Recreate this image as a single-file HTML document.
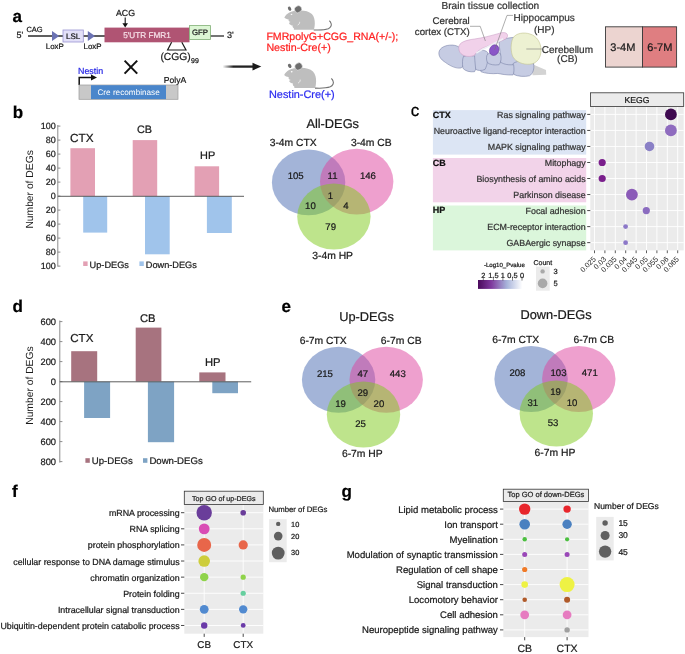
<!DOCTYPE html>
<html><head><meta charset="utf-8"><title>Figure</title>
<style>
html,body{margin:0;padding:0;background:#fff;}
body{width:685px;height:654px;overflow:hidden;}
svg{display:block;font-family:"Liberation Sans",sans-serif;will-change:transform;text-rendering:geometricPrecision;}
</style></head>
<body>
<svg width="685" height="654" viewBox="0 0 685 654">
<rect x="0" y="0" width="685" height="654" fill="#ffffff"/>
<text x="12.60" y="22.00" font-size="17" font-weight="bold" fill="#000" stroke="#000" stroke-width="0.22" >a</text>
<text x="12.80" y="117.80" font-size="17" font-weight="bold" fill="#000" stroke="#000" stroke-width="0.22" >b</text>
<text x="410.80" y="116.00" font-size="17" fill="#000" stroke="#000" stroke-width="0.22" >c</text>
<text x="12.60" y="312.20" font-size="17" font-weight="bold" fill="#000" stroke="#000" stroke-width="0.22" >d</text>
<text x="281.60" y="311.80" font-size="17" font-weight="bold" fill="#000" stroke="#000" stroke-width="0.22" >e</text>
<text x="12.00" y="496.80" font-size="17" font-weight="bold" fill="#000" stroke="#000" stroke-width="0.22" >f</text>
<text x="341.40" y="496.70" font-size="17" font-weight="bold" fill="#000" stroke="#000" stroke-width="0.22" >g</text>
<text x="16.40" y="37.80" font-size="9" fill="#1a1a1a" stroke="#1a1a1a" stroke-width="0.22" >5'</text>
<text x="26.40" y="32.00" font-size="7.5" fill="#1a1a1a" stroke="#1a1a1a" stroke-width="0.22" >CAG</text>
<line x1="28.00" y1="36.00" x2="105.00" y2="36.00" stroke="#2a2a2a" stroke-width="1.3" />
<line x1="210.00" y1="36.00" x2="224.00" y2="36.00" stroke="#2a2a2a" stroke-width="1.3" />
<path d="M52,31 L59.3,36 L52,41 Z" fill="#6b72b3" />
<path d="M87.8,31 L95,36 L87.8,41 Z" fill="#6b72b3" />
<rect x="63.00" y="30.00" width="20.30" height="12.00" fill="#e3e0f8" stroke="#9a94d2" stroke-width="0.8" />
<text x="73.20" y="39.30" font-size="8" text-anchor="middle" fill="#1a1a1a" stroke="#1a1a1a" stroke-width="0.22" >LSL</text>
<text x="45.80" y="49.00" font-size="7.9" fill="#1a1a1a" stroke="#1a1a1a" stroke-width="0.22" >LoxP</text>
<text x="83.60" y="49.00" font-size="7.9" fill="#1a1a1a" stroke="#1a1a1a" stroke-width="0.22" >LoxP</text>
<rect x="104.50" y="27.60" width="85.00" height="14.70" fill="#b05473" />
<text x="147.00" y="37.60" font-size="8.2" text-anchor="middle" fill="#f6dfe7" stroke="#f6dfe7" stroke-width="0.22" >5'UTR FMR1</text>
<rect x="189.50" y="25.60" width="21.00" height="13.80" fill="#dcf6d4" stroke="#7fae74" stroke-width="0.8" />
<text x="200.00" y="34.90" font-size="7.8" text-anchor="middle" fill="#1a1a1a" stroke="#1a1a1a" stroke-width="0.22" >GFP</text>
<text x="227.00" y="38.00" font-size="9" fill="#1a1a1a" stroke="#1a1a1a" stroke-width="0.22" >3'</text>
<text x="116.00" y="16.40" font-size="8.8" fill="#1a1a1a" stroke="#1a1a1a" stroke-width="0.22" >ACG</text>
<line x1="125.20" y1="17.60" x2="125.20" y2="24.00" stroke="#111" stroke-width="1.1" />
<path d="M122.4,23.2 L128,23.2 L125.2,27.6 Z" fill="#111" />
<path d="M171.6,42.3 L167.6,50 L186,50 L181.8,42.3" fill="none" stroke="#1a1a1a" stroke-width="1.2" />
<text x="160.40" y="60.40" font-size="10.3" fill="#1a1a1a" stroke="#1a1a1a" stroke-width="0.22" >(CGG)</text>
<text x="191.00" y="63.00" font-size="7" fill="#1a1a1a" stroke="#1a1a1a" stroke-width="0.22" >99</text>
<line x1="124.60" y1="60.60" x2="137.20" y2="73.60" stroke="#111" stroke-width="2" />
<line x1="137.20" y1="60.60" x2="124.60" y2="73.60" stroke="#111" stroke-width="2" />
<text x="78.00" y="74.30" font-size="8.9" fill="#2626e6" stroke="#2626e6" stroke-width="0.22" >Nestin</text>
<path d="M79.2,85 V77.6 H91.5" fill="none" stroke="#111" stroke-width="1.5" />
<path d="M91,74.6 L97,77.6 L91,80.6 Z" fill="#111" />
<rect x="79.00" y="85.00" width="99.00" height="14.30" fill="#c8c8c8" stroke="#9a9a9a" stroke-width="0.7" />
<rect x="91.00" y="85.20" width="75.00" height="13.90" fill="#4a86cb" />
<text x="128.60" y="95.20" font-size="8.2" text-anchor="middle" fill="#fff" >Cre recombinase</text>
<text x="163.80" y="83.00" font-size="8.6" fill="#1a1a1a" stroke="#1a1a1a" stroke-width="0.22" >PolyA</text>
<defs><linearGradient id="ag" x1="0" x2="1" y1="0" y2="0"><stop offset="0" stop-color="#222" stop-opacity="0"/><stop offset="0.35" stop-color="#222" stop-opacity="1"/></linearGradient><linearGradient id="cb" x1="0" x2="1"><stop offset="0" stop-color="#4a0a5c"/><stop offset="0.3" stop-color="#7f3a9e"/><stop offset="0.65" stop-color="#a7b3da"/><stop offset="1" stop-color="#ffffff"/></linearGradient></defs>
<rect x="222.60" y="65.45" width="31.00" height="2.30" fill="url(#ag)" />
<path d="M252.5,62.8 L261.3,66.6 L252.5,70.5 Z" fill="#1a1a1a" />
<g transform="translate(283.2,5.0) scale(0.955)"><path d="M1.2,13 C2,11 4,9.2 6,8 C9,6.3 13,5.8 17,5.7 C22,5.5 27,6.5 30,9.5 C32.5,12 33.2,16 33.1,19.5 C33,22.5 32.6,24.8 32,26 L12,26 C11.2,26 10.8,25.2 11.4,24.5 C10,24 9.4,22.5 10,21.5 C8.5,21.5 6.5,20.2 6.2,19.3 C6,18.6 6.8,18 7.8,17.9 L6.4,17.4 C5.5,16.8 5.5,15.6 5.8,15.2 C4,14.8 2,14.2 1.2,13 Z" fill="#bebebe"/><ellipse cx="6.7" cy="3.9" rx="1.6" ry="2.3" transform="rotate(-30 6.7 3.9)" fill="#6e6e6e"/><ellipse cx="15.6" cy="4.4" rx="3.9" ry="3.5" transform="rotate(-35 15.6 4.4)" fill="#6e6e6e" stroke="#fff" stroke-width="0.5"/><ellipse cx="8.7" cy="9.8" rx="0.9" ry="0.7" fill="#fff"/><path d="M17.2,17.6 C17.4,19 16.6,20.3 15.2,21" fill="none" stroke="#fff" stroke-width="0.7"/><path d="M32,26.1 C38,26.4 44,26 47.3,24.8 C50,23.6 50.8,21 50.2,19.5 C49.8,18.2 49,17 48.3,16.5" fill="none" stroke="#707070" stroke-width="1.1"/></g>
<g transform="translate(283,62) scale(1)"><path d="M1.2,13 C2,11 4,9.2 6,8 C9,6.3 13,5.8 17,5.7 C22,5.5 27,6.5 30,9.5 C32.5,12 33.2,16 33.1,19.5 C33,22.5 32.6,24.8 32,26 L12,26 C11.2,26 10.8,25.2 11.4,24.5 C10,24 9.4,22.5 10,21.5 C8.5,21.5 6.5,20.2 6.2,19.3 C6,18.6 6.8,18 7.8,17.9 L6.4,17.4 C5.5,16.8 5.5,15.6 5.8,15.2 C4,14.8 2,14.2 1.2,13 Z" fill="#bebebe"/><ellipse cx="6.7" cy="3.9" rx="1.6" ry="2.3" transform="rotate(-30 6.7 3.9)" fill="#6e6e6e"/><ellipse cx="15.6" cy="4.4" rx="3.9" ry="3.5" transform="rotate(-35 15.6 4.4)" fill="#6e6e6e" stroke="#fff" stroke-width="0.5"/><ellipse cx="8.7" cy="9.8" rx="0.9" ry="0.7" fill="#fff"/><path d="M17.2,17.6 C17.4,19 16.6,20.3 15.2,21" fill="none" stroke="#fff" stroke-width="0.7"/><path d="M32,26.1 C38,26.4 44,26 47.3,24.8 C50,23.6 50.8,21 50.2,19.5 C49.8,18.2 49,17 48.3,16.5" fill="none" stroke="#707070" stroke-width="1.1"/></g>
<text x="266.40" y="40.30" font-size="10.6" fill="#ff2222" stroke="#ff2222" stroke-width="0.22" >FMRpolyG+CGG_RNA(+/-);</text>
<text x="266.40" y="51.40" font-size="10.7" fill="#ff2222" stroke="#ff2222" stroke-width="0.22" >Nestin-Cre(+)</text>
<text x="269.00" y="98.30" font-size="10.9" fill="#2b2bf0" stroke="#2b2bf0" stroke-width="0.22" >Nestin-Cre(+)</text>
<text x="441.50" y="8.60" font-size="10.1" fill="#333" stroke="#333" stroke-width="0.22" >Brain tissue collection</text>
<text x="469.70" y="23.50" font-size="9.7" text-anchor="end" fill="#333" stroke="#333" stroke-width="0.22" >Cerebral</text>
<text x="469.70" y="34.60" font-size="9.7" text-anchor="end" fill="#333" stroke="#333" stroke-width="0.22" >cortex (CTX)</text>
<text x="544.20" y="21.40" font-size="10" text-anchor="middle" fill="#333" stroke="#333" stroke-width="0.22" >Hippocampus</text>
<text x="544.20" y="32.60" font-size="10" text-anchor="middle" fill="#333" stroke="#333" stroke-width="0.22" >(HP)</text>
<text x="567.40" y="52.60" font-size="10" text-anchor="middle" fill="#333" stroke="#333" stroke-width="0.22" >Cerebellum</text>
<text x="567.40" y="62.40" font-size="10" text-anchor="middle" fill="#333" stroke="#333" stroke-width="0.22" >(CB)</text>
<path d="M532.5,64.2 L546,70 L546.2,74.8 L532.5,75.2 Z" fill="#d3d3d3" />
<g transform="translate(436,25) scale(0.116788)" stroke="#7079a2" stroke-width="4.6" fill="#c6cce3">
<path d="M540,140 C580,112 650,104 700,106 L790,150 L835,300 C840,330 835,345 825,350 L560,400 C550,350 555,300 550,245 C545,200 540,170 540,140 Z"/>
<path d="M660,330 C700,300 790,300 835,330 C845,370 830,420 800,435 C760,445 700,440 670,425 C650,400 650,360 660,330 Z"/>
<path d="M380,330 C420,300 500,298 550,318 C575,330 600,345 665,340 C670,380 668,410 660,428 C600,430 560,420 530,415 C480,420 420,415 385,400 C375,380 375,350 380,330 Z"/>
<path d="M25,235 C30,195 80,170 140,172 C190,175 225,200 240,250 C250,300 240,350 215,368 C170,375 120,350 80,320 C40,295 22,265 25,235 Z"/>
<path d="M235,270 C260,255 320,258 345,275 C355,320 350,370 330,400 C290,405 250,395 230,370 C225,330 225,295 235,270 Z"/>
<path d="M330,240 C360,212 420,208 442,235 C452,280 440,340 420,380 C390,395 355,390 340,380 C335,330 330,280 330,240 Z"/>
<path d="M435,262 C450,228 520,222 552,245 C562,280 557,320 540,340 C500,346 460,340 440,322 C432,302 430,282 435,262 Z"/>
<path d="M195,190 C198,150 250,130 330,120 C400,110 470,92 540,72 C575,60 605,62 612,85 C616,105 600,118 585,125 C545,145 470,168 400,198 C365,215 345,235 330,258 C305,272 270,272 245,264 C212,252 194,228 195,190 Z" fill="#f1d1ea" stroke="#c99ac3"/>
<path d="M345,240 C400,205 480,170 575,118" fill="none" stroke="#eef0f5" stroke-width="13"/>
</g>
<path d="M513,38 C516,33 524,32 530,34 C537,36 541,43 541,50 C541,58 537,63.5 530,64.2 C523,64.8 516,62 513,57 C510.5,52 510.5,43 513,38 Z" fill="#edf1d2" stroke="#c3c58f" stroke-width="0.6" />
<ellipse cx="494.2" cy="50.1" rx="4.6" ry="5.5" transform="rotate(25 494.2 50.1)" fill="#8a56c8" stroke="#5d3394" stroke-width="0.5"/>
<path d="M470,26.3 H480.2 L485.4,41" fill="none" stroke="#777" stroke-width="0.6" />
<path d="M513,15.4 H507 L494.6,50" fill="none" stroke="#777" stroke-width="0.6" />
<line x1="526.30" y1="49.00" x2="542.00" y2="49.00" stroke="#777" stroke-width="0.6" />
<rect x="605.50" y="26.80" width="37.00" height="40.30" fill="#ecd4d0" stroke="#3a3a3a" stroke-width="0.9" />
<rect x="642.50" y="26.80" width="34.10" height="40.30" fill="#df7e81" stroke="#3a3a3a" stroke-width="0.9" />
<text x="622.80" y="50.60" font-size="11" text-anchor="middle" fill="#1a1a1a" stroke="#1a1a1a" stroke-width="0.22" >3-4M</text>
<text x="659.80" y="50.60" font-size="11" text-anchor="middle" fill="#1a1a1a" stroke="#1a1a1a" stroke-width="0.22" >6-7M</text>
<line x1="57.80" y1="125.00" x2="57.80" y2="266.60" stroke="#808080" stroke-width="0.9" />
<line x1="57.80" y1="126.10" x2="60.40" y2="126.10" stroke="#808080" stroke-width="0.9" />
<text x="55.80" y="129.40" font-size="9" text-anchor="end" fill="#1a1a1a" stroke="#1a1a1a" stroke-width="0.22" >100</text>
<line x1="57.80" y1="140.10" x2="60.40" y2="140.10" stroke="#808080" stroke-width="0.9" />
<text x="55.80" y="143.40" font-size="9" text-anchor="end" fill="#1a1a1a" stroke="#1a1a1a" stroke-width="0.22" >80</text>
<line x1="57.80" y1="154.10" x2="60.40" y2="154.10" stroke="#808080" stroke-width="0.9" />
<text x="55.80" y="157.40" font-size="9" text-anchor="end" fill="#1a1a1a" stroke="#1a1a1a" stroke-width="0.22" >60</text>
<line x1="57.80" y1="168.10" x2="60.40" y2="168.10" stroke="#808080" stroke-width="0.9" />
<text x="55.80" y="171.40" font-size="9" text-anchor="end" fill="#1a1a1a" stroke="#1a1a1a" stroke-width="0.22" >40</text>
<line x1="57.80" y1="182.10" x2="60.40" y2="182.10" stroke="#808080" stroke-width="0.9" />
<text x="55.80" y="185.40" font-size="9" text-anchor="end" fill="#1a1a1a" stroke="#1a1a1a" stroke-width="0.22" >20</text>
<line x1="57.80" y1="196.10" x2="60.40" y2="196.10" stroke="#808080" stroke-width="0.9" />
<text x="55.80" y="199.40" font-size="9" text-anchor="end" fill="#1a1a1a" stroke="#1a1a1a" stroke-width="0.22" >0</text>
<line x1="57.80" y1="210.10" x2="60.40" y2="210.10" stroke="#808080" stroke-width="0.9" />
<text x="55.80" y="213.40" font-size="9" text-anchor="end" fill="#1a1a1a" stroke="#1a1a1a" stroke-width="0.22" >20</text>
<line x1="57.80" y1="224.10" x2="60.40" y2="224.10" stroke="#808080" stroke-width="0.9" />
<text x="55.80" y="227.40" font-size="9" text-anchor="end" fill="#1a1a1a" stroke="#1a1a1a" stroke-width="0.22" >40</text>
<line x1="57.80" y1="238.10" x2="60.40" y2="238.10" stroke="#808080" stroke-width="0.9" />
<text x="55.80" y="241.40" font-size="9" text-anchor="end" fill="#1a1a1a" stroke="#1a1a1a" stroke-width="0.22" >60</text>
<line x1="57.80" y1="252.10" x2="60.40" y2="252.10" stroke="#808080" stroke-width="0.9" />
<text x="55.80" y="255.40" font-size="9" text-anchor="end" fill="#1a1a1a" stroke="#1a1a1a" stroke-width="0.22" >80</text>
<line x1="57.80" y1="266.10" x2="60.40" y2="266.10" stroke="#808080" stroke-width="0.9" />
<text x="55.80" y="269.40" font-size="9" text-anchor="end" fill="#1a1a1a" stroke="#1a1a1a" stroke-width="0.22" >100</text>
<rect x="70.40" y="148.20" width="24.60" height="47.90" fill="#e3a0b4" />
<rect x="83.20" y="196.10" width="24.00" height="36.50" fill="#a0c4eb" />
<rect x="132.70" y="140.10" width="24.50" height="56.00" fill="#e3a0b4" />
<rect x="145.00" y="196.10" width="24.70" height="58.20" fill="#a0c4eb" />
<rect x="194.60" y="166.30" width="24.50" height="29.80" fill="#e3a0b4" />
<rect x="206.90" y="196.10" width="24.90" height="36.90" fill="#a0c4eb" />
<line x1="57.80" y1="196.30" x2="244.00" y2="196.30" stroke="#555" stroke-width="0.95" />
<text x="70.00" y="141.50" font-size="11.8" fill="#1a1a1a" stroke="#1a1a1a" stroke-width="0.22" >CTX</text>
<text x="137.00" y="133.20" font-size="10.8" fill="#1a1a1a" stroke="#1a1a1a" stroke-width="0.22" >CB</text>
<text x="200.10" y="158.90" font-size="10.9" fill="#1a1a1a" stroke="#1a1a1a" stroke-width="0.22" >HP</text>
<rect x="83.20" y="261.40" width="4.40" height="4.60" fill="#e3a0b4" />
<text x="89.60" y="267.60" font-size="9.2" fill="#1a1a1a" stroke="#1a1a1a" stroke-width="0.22" >Up-DEGs</text>
<rect x="139.40" y="261.40" width="4.40" height="4.60" fill="#a0c4eb" />
<text x="145.80" y="267.60" font-size="9.2" fill="#1a1a1a" stroke="#1a1a1a" stroke-width="0.22" >Down-DEGs</text>
<text transform="translate(33,189.4) rotate(-90)" text-anchor="middle" font-size="10.3" fill="#1a1a1a">Number of DEGs</text>
<line x1="59.80" y1="320.50" x2="59.80" y2="462.60" stroke="#808080" stroke-width="0.9" />
<line x1="59.80" y1="321.60" x2="62.40" y2="321.60" stroke="#808080" stroke-width="0.9" />
<text x="56.00" y="324.90" font-size="9.3" text-anchor="end" fill="#1a1a1a" stroke="#1a1a1a" stroke-width="0.22" >600</text>
<line x1="59.80" y1="341.60" x2="62.40" y2="341.60" stroke="#808080" stroke-width="0.9" />
<text x="56.00" y="344.90" font-size="9.3" text-anchor="end" fill="#1a1a1a" stroke="#1a1a1a" stroke-width="0.22" >400</text>
<line x1="59.80" y1="361.60" x2="62.40" y2="361.60" stroke="#808080" stroke-width="0.9" />
<text x="56.00" y="364.90" font-size="9.3" text-anchor="end" fill="#1a1a1a" stroke="#1a1a1a" stroke-width="0.22" >200</text>
<line x1="59.80" y1="381.60" x2="62.40" y2="381.60" stroke="#808080" stroke-width="0.9" />
<text x="56.00" y="384.90" font-size="9.3" text-anchor="end" fill="#1a1a1a" stroke="#1a1a1a" stroke-width="0.22" >0</text>
<line x1="59.80" y1="401.60" x2="62.40" y2="401.60" stroke="#808080" stroke-width="0.9" />
<text x="56.00" y="404.90" font-size="9.3" text-anchor="end" fill="#1a1a1a" stroke="#1a1a1a" stroke-width="0.22" >200</text>
<line x1="59.80" y1="421.60" x2="62.40" y2="421.60" stroke="#808080" stroke-width="0.9" />
<text x="56.00" y="424.90" font-size="9.3" text-anchor="end" fill="#1a1a1a" stroke="#1a1a1a" stroke-width="0.22" >400</text>
<line x1="59.80" y1="441.60" x2="62.40" y2="441.60" stroke="#808080" stroke-width="0.9" />
<text x="56.00" y="444.90" font-size="9.3" text-anchor="end" fill="#1a1a1a" stroke="#1a1a1a" stroke-width="0.22" >600</text>
<line x1="59.80" y1="461.60" x2="62.40" y2="461.60" stroke="#808080" stroke-width="0.9" />
<text x="56.00" y="464.90" font-size="9.3" text-anchor="end" fill="#1a1a1a" stroke="#1a1a1a" stroke-width="0.22" >800</text>
<rect x="71.20" y="351.20" width="26.00" height="30.40" fill="#a7737f" />
<rect x="84.10" y="381.60" width="26.00" height="36.40" fill="#7ea3c4" />
<rect x="135.70" y="327.60" width="25.70" height="54.00" fill="#a7737f" />
<rect x="147.90" y="381.60" width="26.20" height="60.60" fill="#7ea3c4" />
<rect x="199.30" y="372.40" width="26.20" height="9.20" fill="#a7737f" />
<rect x="212.30" y="381.60" width="25.70" height="11.60" fill="#7ea3c4" />
<line x1="59.80" y1="381.80" x2="251.20" y2="381.80" stroke="#555" stroke-width="0.95" />
<text x="70.20" y="342.40" font-size="11.6" fill="#1a1a1a" stroke="#1a1a1a" stroke-width="0.22" >CTX</text>
<text x="139.90" y="322.20" font-size="11.2" fill="#1a1a1a" stroke="#1a1a1a" stroke-width="0.22" >CB</text>
<text x="205.00" y="366.30" font-size="11.2" fill="#1a1a1a" stroke="#1a1a1a" stroke-width="0.22" >HP</text>
<rect x="85.40" y="458.20" width="4.40" height="4.60" fill="#a7737f" />
<text x="91.80" y="464.40" font-size="9.6" fill="#1a1a1a" stroke="#1a1a1a" stroke-width="0.22" >Up-DEGs</text>
<rect x="143.00" y="458.20" width="4.40" height="4.60" fill="#7ea3c4" />
<text x="149.40" y="464.40" font-size="9.6" fill="#1a1a1a" stroke="#1a1a1a" stroke-width="0.22" >Down-DEGs</text>
<text transform="translate(32.6,385.6) rotate(-90)" text-anchor="middle" font-size="10.3" fill="#1a1a1a">Number of DEGs</text>
<ellipse cx="308.60" cy="182.40" rx="36.7" ry="32.9" fill="#4769b1" fill-opacity="0.5"/>
<ellipse cx="356.70" cy="181.60" rx="36.7" ry="32.9" fill="#dd419d" fill-opacity="0.5"/>
<ellipse cx="333.90" cy="216.50" rx="36.7" ry="32.9" fill="#7dc919" fill-opacity="0.5"/>
<text x="332.70" y="127.50" font-size="12.8" text-anchor="middle" fill="#1a1a1a" stroke="#1a1a1a" stroke-width="0.22" >All-DEGs</text>
<text x="293.20" y="146.40" font-size="10.35" text-anchor="middle" fill="#1a1a1a" stroke="#1a1a1a" stroke-width="0.22" >3-4m CTX</text>
<text x="371.30" y="146.40" font-size="10.35" text-anchor="middle" fill="#1a1a1a" stroke="#1a1a1a" stroke-width="0.22" >3-4m CB</text>
<text x="332.60" y="258.90" font-size="10.35" text-anchor="middle" fill="#1a1a1a" stroke="#1a1a1a" stroke-width="0.22" >3-4m HP</text>
<text x="295.70" y="178.95" font-size="9.6" text-anchor="middle" fill="#1a1a1a" stroke="#1a1a1a" stroke-width="0.22" >105</text>
<text x="332.60" y="178.95" font-size="9.6" text-anchor="middle" fill="#1a1a1a" stroke="#1a1a1a" stroke-width="0.22" >11</text>
<text x="367.90" y="178.95" font-size="9.6" text-anchor="middle" fill="#1a1a1a" stroke="#1a1a1a" stroke-width="0.22" >146</text>
<text x="330.40" y="198.55" font-size="9.6" text-anchor="middle" fill="#1a1a1a" stroke="#1a1a1a" stroke-width="0.22" >1</text>
<text x="310.40" y="208.85" font-size="9.6" text-anchor="middle" fill="#1a1a1a" stroke="#1a1a1a" stroke-width="0.22" >10</text>
<text x="346.00" y="208.85" font-size="9.6" text-anchor="middle" fill="#1a1a1a" stroke="#1a1a1a" stroke-width="0.22" >4</text>
<text x="330.70" y="229.65" font-size="9.6" text-anchor="middle" fill="#1a1a1a" stroke="#1a1a1a" stroke-width="0.22" >79</text>
<ellipse cx="338.60" cy="379.80" rx="36.7" ry="33" fill="#4769b1" fill-opacity="0.5"/>
<ellipse cx="386.20" cy="379.80" rx="36.7" ry="33" fill="#dd419d" fill-opacity="0.5"/>
<ellipse cx="363.50" cy="414.40" rx="36.7" ry="33" fill="#7dc919" fill-opacity="0.5"/>
<text x="366.60" y="320.80" font-size="12.8" text-anchor="middle" fill="#1a1a1a" stroke="#1a1a1a" stroke-width="0.22" >Up-DEGs</text>
<text x="323.20" y="344.00" font-size="10.35" text-anchor="middle" fill="#1a1a1a" stroke="#1a1a1a" stroke-width="0.22" >6-7m CTX</text>
<text x="401.20" y="344.00" font-size="10.35" text-anchor="middle" fill="#1a1a1a" stroke="#1a1a1a" stroke-width="0.22" >6-7m CB</text>
<text x="362.30" y="457.30" font-size="10.35" text-anchor="middle" fill="#1a1a1a" stroke="#1a1a1a" stroke-width="0.22" >6-7m HP</text>
<text x="324.90" y="376.85" font-size="9.6" text-anchor="middle" fill="#1a1a1a" stroke="#1a1a1a" stroke-width="0.22" >215</text>
<text x="362.80" y="376.85" font-size="9.6" text-anchor="middle" fill="#1a1a1a" stroke="#1a1a1a" stroke-width="0.22" >47</text>
<text x="397.80" y="376.85" font-size="9.6" text-anchor="middle" fill="#1a1a1a" stroke="#1a1a1a" stroke-width="0.22" >443</text>
<text x="362.80" y="395.95" font-size="9.6" text-anchor="middle" fill="#1a1a1a" stroke="#1a1a1a" stroke-width="0.22" >29</text>
<text x="340.50" y="406.75" font-size="9.6" text-anchor="middle" fill="#1a1a1a" stroke="#1a1a1a" stroke-width="0.22" >19</text>
<text x="378.90" y="406.75" font-size="9.6" text-anchor="middle" fill="#1a1a1a" stroke="#1a1a1a" stroke-width="0.22" >20</text>
<text x="360.60" y="427.05" font-size="9.6" text-anchor="middle" fill="#1a1a1a" stroke="#1a1a1a" stroke-width="0.22" >25</text>
<ellipse cx="531.10" cy="379.00" rx="36.7" ry="33" fill="#4769b1" fill-opacity="0.5"/>
<ellipse cx="578.80" cy="379.00" rx="36.7" ry="33" fill="#dd419d" fill-opacity="0.5"/>
<ellipse cx="556.30" cy="413.40" rx="36.7" ry="33" fill="#7dc919" fill-opacity="0.5"/>
<text x="556.00" y="319.10" font-size="12.8" text-anchor="middle" fill="#1a1a1a" stroke="#1a1a1a" stroke-width="0.22" >Down-DEGs</text>
<text x="515.70" y="343.30" font-size="10.35" text-anchor="middle" fill="#1a1a1a" stroke="#1a1a1a" stroke-width="0.22" >6-7m CTX</text>
<text x="593.80" y="343.30" font-size="10.35" text-anchor="middle" fill="#1a1a1a" stroke="#1a1a1a" stroke-width="0.22" >6-7m CB</text>
<text x="555.00" y="455.80" font-size="10.35" text-anchor="middle" fill="#1a1a1a" stroke="#1a1a1a" stroke-width="0.22" >6-7m HP</text>
<text x="517.40" y="376.15" font-size="9.6" text-anchor="middle" fill="#1a1a1a" stroke="#1a1a1a" stroke-width="0.22" >208</text>
<text x="558.50" y="376.15" font-size="9.6" text-anchor="middle" fill="#1a1a1a" stroke="#1a1a1a" stroke-width="0.22" >103</text>
<text x="589.80" y="376.15" font-size="9.6" text-anchor="middle" fill="#1a1a1a" stroke="#1a1a1a" stroke-width="0.22" >471</text>
<text x="555.60" y="395.45" font-size="9.6" text-anchor="middle" fill="#1a1a1a" stroke="#1a1a1a" stroke-width="0.22" >19</text>
<text x="532.80" y="405.75" font-size="9.6" text-anchor="middle" fill="#1a1a1a" stroke="#1a1a1a" stroke-width="0.22" >31</text>
<text x="572.00" y="405.75" font-size="9.6" text-anchor="middle" fill="#1a1a1a" stroke="#1a1a1a" stroke-width="0.22" >10</text>
<text x="553.10" y="425.75" font-size="9.6" text-anchor="middle" fill="#1a1a1a" stroke="#1a1a1a" stroke-width="0.22" >53</text>
<rect x="432.90" y="110.10" width="153.30" height="44.50" fill="#dce5f4" />
<rect x="432.90" y="158.00" width="153.30" height="44.30" fill="#f2d3e9" />
<rect x="432.90" y="205.50" width="153.30" height="44.90" fill="#dbf6db" />
<text x="432.80" y="118.00" font-size="9" font-weight="bold" fill="#111" stroke="#111" stroke-width="0.22" >CTX</text>
<text x="432.80" y="166.00" font-size="9" font-weight="bold" fill="#111" stroke="#111" stroke-width="0.22" >CB</text>
<text x="432.80" y="213.10" font-size="9" font-weight="bold" fill="#111" stroke="#111" stroke-width="0.22" >HP</text>
<rect x="590.30" y="106.40" width="93.40" height="144.00" fill="#ebebeb" />
<line x1="594.50" y1="106.40" x2="594.50" y2="250.40" stroke="#ffffff" stroke-width="0.9" />
<line x1="604.90" y1="106.40" x2="604.90" y2="250.40" stroke="#ffffff" stroke-width="0.9" />
<line x1="615.30" y1="106.40" x2="615.30" y2="250.40" stroke="#ffffff" stroke-width="0.9" />
<line x1="625.70" y1="106.40" x2="625.70" y2="250.40" stroke="#ffffff" stroke-width="0.9" />
<line x1="636.10" y1="106.40" x2="636.10" y2="250.40" stroke="#ffffff" stroke-width="0.9" />
<line x1="646.50" y1="106.40" x2="646.50" y2="250.40" stroke="#ffffff" stroke-width="0.9" />
<line x1="656.90" y1="106.40" x2="656.90" y2="250.40" stroke="#ffffff" stroke-width="0.9" />
<line x1="667.30" y1="106.40" x2="667.30" y2="250.40" stroke="#ffffff" stroke-width="0.9" />
<line x1="677.70" y1="106.40" x2="677.70" y2="250.40" stroke="#ffffff" stroke-width="0.9" />
<line x1="590.30" y1="114.40" x2="683.70" y2="114.40" stroke="#ffffff" stroke-width="0.9" />
<line x1="590.30" y1="130.43" x2="683.70" y2="130.43" stroke="#ffffff" stroke-width="0.9" />
<line x1="590.30" y1="146.46" x2="683.70" y2="146.46" stroke="#ffffff" stroke-width="0.9" />
<line x1="590.30" y1="162.49" x2="683.70" y2="162.49" stroke="#ffffff" stroke-width="0.9" />
<line x1="590.30" y1="178.52" x2="683.70" y2="178.52" stroke="#ffffff" stroke-width="0.9" />
<line x1="590.30" y1="194.55" x2="683.70" y2="194.55" stroke="#ffffff" stroke-width="0.9" />
<line x1="590.30" y1="210.58" x2="683.70" y2="210.58" stroke="#ffffff" stroke-width="0.9" />
<line x1="590.30" y1="226.61" x2="683.70" y2="226.61" stroke="#ffffff" stroke-width="0.9" />
<line x1="590.30" y1="242.64" x2="683.70" y2="242.64" stroke="#ffffff" stroke-width="0.9" />
<rect x="590.40" y="92.80" width="93.30" height="13.60" fill="#ebebeb" stroke="#333" stroke-width="0.8" />
<text x="637.00" y="103.00" font-size="8.6" text-anchor="middle" fill="#1a1a1a" stroke="#1a1a1a" stroke-width="0.22" >KEGG</text>
<text x="585.60" y="118.00" font-size="8.85" text-anchor="end" fill="#333" stroke="#333" stroke-width="0.22" >Ras signaling pathway</text>
<line x1="587.20" y1="114.40" x2="590.30" y2="114.40" stroke="#333" stroke-width="0.9" />
<text x="585.60" y="134.03" font-size="8.85" text-anchor="end" fill="#333" stroke="#333" stroke-width="0.22" >Neuroactive ligand-receptor interaction</text>
<line x1="587.20" y1="130.43" x2="590.30" y2="130.43" stroke="#333" stroke-width="0.9" />
<text x="585.60" y="150.06" font-size="8.85" text-anchor="end" fill="#333" stroke="#333" stroke-width="0.22" >MAPK signaling pathway</text>
<line x1="587.20" y1="146.46" x2="590.30" y2="146.46" stroke="#333" stroke-width="0.9" />
<text x="585.60" y="166.09" font-size="8.85" text-anchor="end" fill="#333" stroke="#333" stroke-width="0.22" >Mitophagy</text>
<line x1="587.20" y1="162.49" x2="590.30" y2="162.49" stroke="#333" stroke-width="0.9" />
<text x="585.60" y="182.12" font-size="8.85" text-anchor="end" fill="#333" stroke="#333" stroke-width="0.22" >Biosynthesis of amino acids</text>
<line x1="587.20" y1="178.52" x2="590.30" y2="178.52" stroke="#333" stroke-width="0.9" />
<text x="585.60" y="198.15" font-size="8.85" text-anchor="end" fill="#333" stroke="#333" stroke-width="0.22" >Parkinson disease</text>
<line x1="587.20" y1="194.55" x2="590.30" y2="194.55" stroke="#333" stroke-width="0.9" />
<text x="585.60" y="214.18" font-size="8.85" text-anchor="end" fill="#333" stroke="#333" stroke-width="0.22" >Focal adhesion</text>
<line x1="587.20" y1="210.58" x2="590.30" y2="210.58" stroke="#333" stroke-width="0.9" />
<text x="585.60" y="230.21" font-size="8.85" text-anchor="end" fill="#333" stroke="#333" stroke-width="0.22" >ECM-receptor interaction</text>
<line x1="587.20" y1="226.61" x2="590.30" y2="226.61" stroke="#333" stroke-width="0.9" />
<text x="585.60" y="246.24" font-size="8.85" text-anchor="end" fill="#333" stroke="#333" stroke-width="0.22" >GABAergic synapse</text>
<line x1="587.20" y1="242.64" x2="590.30" y2="242.64" stroke="#333" stroke-width="0.9" />
<circle cx="670.90" cy="114.40" r="5.90" fill="#3f0a50" />
<circle cx="670.90" cy="130.43" r="5.90" fill="#8f6cbf" />
<circle cx="649.50" cy="146.46" r="4.80" fill="#8a80c6" />
<circle cx="602.20" cy="162.49" r="3.60" fill="#7a1f8c" />
<circle cx="602.20" cy="178.52" r="3.60" fill="#7a1f8c" />
<circle cx="631.90" cy="194.55" r="5.90" fill="#8b5bb8" />
<circle cx="646.30" cy="210.58" r="3.60" fill="#8b6cc0" />
<circle cx="625.60" cy="226.61" r="2.40" fill="#8c78c8" />
<circle cx="625.60" cy="242.64" r="2.40" fill="#8c78c8" />
<line x1="594.50" y1="250.40" x2="594.50" y2="253.20" stroke="#333" stroke-width="0.8" />
<text transform="translate(596.30,259.6) rotate(-45)" text-anchor="end" font-size="7.4" fill="#222">0.025</text>
<line x1="604.90" y1="250.40" x2="604.90" y2="253.20" stroke="#333" stroke-width="0.8" />
<text transform="translate(606.70,259.6) rotate(-45)" text-anchor="end" font-size="7.4" fill="#222">0.03</text>
<line x1="615.30" y1="250.40" x2="615.30" y2="253.20" stroke="#333" stroke-width="0.8" />
<text transform="translate(617.10,259.6) rotate(-45)" text-anchor="end" font-size="7.4" fill="#222">0.035</text>
<line x1="625.70" y1="250.40" x2="625.70" y2="253.20" stroke="#333" stroke-width="0.8" />
<text transform="translate(627.50,259.6) rotate(-45)" text-anchor="end" font-size="7.4" fill="#222">0.04</text>
<line x1="636.10" y1="250.40" x2="636.10" y2="253.20" stroke="#333" stroke-width="0.8" />
<text transform="translate(637.90,259.6) rotate(-45)" text-anchor="end" font-size="7.4" fill="#222">0.045</text>
<line x1="646.50" y1="250.40" x2="646.50" y2="253.20" stroke="#333" stroke-width="0.8" />
<text transform="translate(648.30,259.6) rotate(-45)" text-anchor="end" font-size="7.4" fill="#222">0.05</text>
<line x1="656.90" y1="250.40" x2="656.90" y2="253.20" stroke="#333" stroke-width="0.8" />
<text transform="translate(658.70,259.6) rotate(-45)" text-anchor="end" font-size="7.4" fill="#222">0.055</text>
<line x1="667.30" y1="250.40" x2="667.30" y2="253.20" stroke="#333" stroke-width="0.8" />
<text transform="translate(669.10,259.6) rotate(-45)" text-anchor="end" font-size="7.4" fill="#222">0.06</text>
<line x1="677.70" y1="250.40" x2="677.70" y2="253.20" stroke="#333" stroke-width="0.8" />
<text transform="translate(679.50,259.6) rotate(-45)" text-anchor="end" font-size="7.4" fill="#222">0.065</text>
<text x="483.90" y="267.00" font-size="6.1" fill="#1a1a1a" stroke="#1a1a1a" stroke-width="0.22" >-Log10_Pvalue</text>
<text x="483.30" y="278.30" font-size="7.4" text-anchor="middle" fill="#1a1a1a" stroke="#1a1a1a" stroke-width="0.22" >2</text>
<text x="493.40" y="278.30" font-size="7.4" text-anchor="middle" fill="#1a1a1a" stroke="#1a1a1a" stroke-width="0.22" >1.5</text>
<text x="502.90" y="278.30" font-size="7.4" text-anchor="middle" fill="#1a1a1a" stroke="#1a1a1a" stroke-width="0.22" >1</text>
<text x="512.50" y="278.30" font-size="7.4" text-anchor="middle" fill="#1a1a1a" stroke="#1a1a1a" stroke-width="0.22" >0.5</text>
<text x="522.00" y="278.30" font-size="7.4" text-anchor="middle" fill="#1a1a1a" stroke="#1a1a1a" stroke-width="0.22" >0</text>
<rect x="478.00" y="280.00" width="44.30" height="8.90" fill="url(#cb)" />
<line x1="483.30" y1="276.60" x2="483.30" y2="280.60" stroke="#333" stroke-width="0.6" />
<line x1="493.40" y1="276.60" x2="493.40" y2="280.60" stroke="#333" stroke-width="0.6" />
<line x1="502.90" y1="276.60" x2="502.90" y2="280.60" stroke="#333" stroke-width="0.6" />
<line x1="512.50" y1="276.60" x2="512.50" y2="280.60" stroke="#333" stroke-width="0.6" />
<line x1="522.00" y1="276.60" x2="522.00" y2="280.60" stroke="#333" stroke-width="0.6" />
<text x="533.50" y="264.70" font-size="7" fill="#1a1a1a" stroke="#1a1a1a" stroke-width="0.22" >Count</text>
<rect x="536.00" y="266.60" width="13.70" height="24.10" fill="#ebebeb" />
<circle cx="542.60" cy="271.40" r="2.20" fill="#a9a9a9" />
<circle cx="542.60" cy="283.40" r="4.80" fill="#a9a9a9" />
<text x="553.60" y="273.90" font-size="7.5" fill="#1a1a1a" stroke="#1a1a1a" stroke-width="0.22" >3</text>
<text x="553.60" y="285.60" font-size="7.5" fill="#1a1a1a" stroke="#1a1a1a" stroke-width="0.22" >5</text>
<rect x="184.30" y="504.50" width="79.00" height="129.20" fill="#ebebeb" />
<line x1="204.20" y1="504.50" x2="204.20" y2="633.70" stroke="#fff" stroke-width="0.9" />
<line x1="243.20" y1="504.50" x2="243.20" y2="633.70" stroke="#fff" stroke-width="0.9" />
<line x1="184.30" y1="512.70" x2="263.30" y2="512.70" stroke="#fff" stroke-width="0.9" />
<line x1="184.30" y1="528.81" x2="263.30" y2="528.81" stroke="#fff" stroke-width="0.9" />
<line x1="184.30" y1="544.92" x2="263.30" y2="544.92" stroke="#fff" stroke-width="0.9" />
<line x1="184.30" y1="561.03" x2="263.30" y2="561.03" stroke="#fff" stroke-width="0.9" />
<line x1="184.30" y1="577.14" x2="263.30" y2="577.14" stroke="#fff" stroke-width="0.9" />
<line x1="184.30" y1="593.25" x2="263.30" y2="593.25" stroke="#fff" stroke-width="0.9" />
<line x1="184.30" y1="609.36" x2="263.30" y2="609.36" stroke="#fff" stroke-width="0.9" />
<line x1="184.30" y1="625.47" x2="263.30" y2="625.47" stroke="#fff" stroke-width="0.9" />
<rect x="184.30" y="491.20" width="79.00" height="13.30" fill="#ebebeb" stroke="#333" stroke-width="0.8" />
<text x="223.80" y="500.50" font-size="7.1" text-anchor="middle" fill="#222" stroke="#222" stroke-width="0.22" >Top GO of up-DEGs</text>
<text x="179.60" y="516.20" font-size="8.83" text-anchor="end" fill="#1a1a1a" stroke="#1a1a1a" stroke-width="0.22" >mRNA processing</text>
<line x1="181.00" y1="512.70" x2="184.30" y2="512.70" stroke="#333" stroke-width="0.9" />
<text x="179.60" y="532.31" font-size="8.83" text-anchor="end" fill="#1a1a1a" stroke="#1a1a1a" stroke-width="0.22" >RNA splicing</text>
<line x1="181.00" y1="528.81" x2="184.30" y2="528.81" stroke="#333" stroke-width="0.9" />
<text x="179.60" y="548.42" font-size="8.83" text-anchor="end" fill="#1a1a1a" stroke="#1a1a1a" stroke-width="0.22" >protein phosphorylation</text>
<line x1="181.00" y1="544.92" x2="184.30" y2="544.92" stroke="#333" stroke-width="0.9" />
<text x="179.60" y="564.53" font-size="8.83" text-anchor="end" fill="#1a1a1a" stroke="#1a1a1a" stroke-width="0.22" >cellular response to DNA damage stimulus</text>
<line x1="181.00" y1="561.03" x2="184.30" y2="561.03" stroke="#333" stroke-width="0.9" />
<text x="179.60" y="580.64" font-size="8.83" text-anchor="end" fill="#1a1a1a" stroke="#1a1a1a" stroke-width="0.22" >chromatin organization</text>
<line x1="181.00" y1="577.14" x2="184.30" y2="577.14" stroke="#333" stroke-width="0.9" />
<text x="179.60" y="596.75" font-size="8.83" text-anchor="end" fill="#1a1a1a" stroke="#1a1a1a" stroke-width="0.22" >Protein folding</text>
<line x1="181.00" y1="593.25" x2="184.30" y2="593.25" stroke="#333" stroke-width="0.9" />
<text x="179.60" y="612.86" font-size="8.83" text-anchor="end" fill="#1a1a1a" stroke="#1a1a1a" stroke-width="0.22" >Intracellular signal transduction</text>
<line x1="181.00" y1="609.36" x2="184.30" y2="609.36" stroke="#333" stroke-width="0.9" />
<text x="179.60" y="628.97" font-size="8.83" text-anchor="end" fill="#1a1a1a" stroke="#1a1a1a" stroke-width="0.22" >Ubiquitin-dependent protein catabolic process</text>
<line x1="181.00" y1="625.47" x2="184.30" y2="625.47" stroke="#333" stroke-width="0.9" />
<circle cx="204.20" cy="512.70" r="7.70" fill="#6a3d9a" />
<circle cx="243.20" cy="512.70" r="2.80" fill="#6a3d9a" />
<circle cx="204.20" cy="528.81" r="5.40" fill="#d94db5" />
<circle cx="204.20" cy="544.92" r="7.00" fill="#e8664a" />
<circle cx="243.20" cy="544.92" r="4.60" fill="#e8664a" />
<circle cx="204.20" cy="561.03" r="5.80" fill="#cdcd3c" />
<circle cx="204.20" cy="577.14" r="4.20" fill="#8fd34a" />
<circle cx="243.20" cy="577.14" r="2.60" fill="#8fd34a" />
<circle cx="243.20" cy="593.25" r="2.60" fill="#66cf9f" />
<circle cx="204.20" cy="609.36" r="4.40" fill="#518ad0" />
<circle cx="243.20" cy="609.36" r="4.20" fill="#518ad0" />
<circle cx="204.20" cy="625.47" r="3.20" fill="#6a3aa8" />
<circle cx="243.20" cy="625.47" r="2.40" fill="#6a3aa8" />
<line x1="204.20" y1="633.70" x2="204.20" y2="636.90" stroke="#333" stroke-width="0.9" />
<text x="204.20" y="647.70" font-size="9.9" text-anchor="middle" fill="#1a1a1a" stroke="#1a1a1a" stroke-width="0.22" >CB</text>
<line x1="243.20" y1="633.70" x2="243.20" y2="636.90" stroke="#333" stroke-width="0.9" />
<text x="243.20" y="647.70" font-size="9.9" text-anchor="middle" fill="#1a1a1a" stroke="#1a1a1a" stroke-width="0.22" >CTX</text>
<text x="268.40" y="511.50" font-size="7.75" fill="#1a1a1a" stroke="#1a1a1a" stroke-width="0.22" >Number of DEGs</text>
<rect x="269.10" y="519.20" width="17.60" height="43.00" fill="#ebebeb" />
<circle cx="278.20" cy="523.90" r="2.20" fill="#5f5f5f" />
<circle cx="278.20" cy="536.10" r="4.30" fill="#5f5f5f" />
<circle cx="278.20" cy="553.10" r="6.40" fill="#5f5f5f" />
<text x="291.10" y="526.70" font-size="7.4" fill="#1a1a1a" stroke="#1a1a1a" stroke-width="0.22" >10</text>
<text x="291.10" y="538.90" font-size="7.4" fill="#1a1a1a" stroke="#1a1a1a" stroke-width="0.22" >20</text>
<text x="291.10" y="555.20" font-size="7.4" fill="#1a1a1a" stroke="#1a1a1a" stroke-width="0.22" >30</text>
<rect x="503.30" y="501.40" width="85.20" height="135.70" fill="#ebebeb" />
<line x1="524.70" y1="501.40" x2="524.70" y2="637.10" stroke="#fff" stroke-width="0.9" />
<line x1="567.10" y1="501.40" x2="567.10" y2="637.10" stroke="#fff" stroke-width="0.9" />
<line x1="503.30" y1="509.10" x2="588.50" y2="509.10" stroke="#fff" stroke-width="0.9" />
<line x1="503.30" y1="524.20" x2="588.50" y2="524.20" stroke="#fff" stroke-width="0.9" />
<line x1="503.30" y1="539.30" x2="588.50" y2="539.30" stroke="#fff" stroke-width="0.9" />
<line x1="503.30" y1="554.40" x2="588.50" y2="554.40" stroke="#fff" stroke-width="0.9" />
<line x1="503.30" y1="569.50" x2="588.50" y2="569.50" stroke="#fff" stroke-width="0.9" />
<line x1="503.30" y1="584.60" x2="588.50" y2="584.60" stroke="#fff" stroke-width="0.9" />
<line x1="503.30" y1="599.70" x2="588.50" y2="599.70" stroke="#fff" stroke-width="0.9" />
<line x1="503.30" y1="614.80" x2="588.50" y2="614.80" stroke="#fff" stroke-width="0.9" />
<line x1="503.30" y1="629.90" x2="588.50" y2="629.90" stroke="#fff" stroke-width="0.9" />
<rect x="503.30" y="489.20" width="85.20" height="12.20" fill="#ebebeb" stroke="#333" stroke-width="0.8" />
<text x="545.90" y="497.40" font-size="7.5" text-anchor="middle" fill="#222" stroke="#222" stroke-width="0.22" >Top GO of down-DEGs</text>
<text x="497.90" y="512.60" font-size="9.55" text-anchor="end" fill="#1a1a1a" stroke="#1a1a1a" stroke-width="0.22" >Lipid metabolic process</text>
<line x1="500.00" y1="509.10" x2="503.30" y2="509.10" stroke="#333" stroke-width="0.9" />
<text x="497.90" y="527.70" font-size="9.55" text-anchor="end" fill="#1a1a1a" stroke="#1a1a1a" stroke-width="0.22" >Ion transport</text>
<line x1="500.00" y1="524.20" x2="503.30" y2="524.20" stroke="#333" stroke-width="0.9" />
<text x="497.90" y="542.80" font-size="9.55" text-anchor="end" fill="#1a1a1a" stroke="#1a1a1a" stroke-width="0.22" >Myelination</text>
<line x1="500.00" y1="539.30" x2="503.30" y2="539.30" stroke="#333" stroke-width="0.9" />
<text x="497.90" y="557.90" font-size="9.55" text-anchor="end" fill="#1a1a1a" stroke="#1a1a1a" stroke-width="0.22" >Modulation of synaptic transmission</text>
<line x1="500.00" y1="554.40" x2="503.30" y2="554.40" stroke="#333" stroke-width="0.9" />
<text x="497.90" y="573.00" font-size="9.55" text-anchor="end" fill="#1a1a1a" stroke="#1a1a1a" stroke-width="0.22" >Regulation of cell shape</text>
<line x1="500.00" y1="569.50" x2="503.30" y2="569.50" stroke="#333" stroke-width="0.9" />
<text x="497.90" y="588.10" font-size="9.55" text-anchor="end" fill="#1a1a1a" stroke="#1a1a1a" stroke-width="0.22" >Signal transduction</text>
<line x1="500.00" y1="584.60" x2="503.30" y2="584.60" stroke="#333" stroke-width="0.9" />
<text x="497.90" y="603.20" font-size="9.55" text-anchor="end" fill="#1a1a1a" stroke="#1a1a1a" stroke-width="0.22" >Locomotory behavior</text>
<line x1="500.00" y1="599.70" x2="503.30" y2="599.70" stroke="#333" stroke-width="0.9" />
<text x="497.90" y="618.30" font-size="9.55" text-anchor="end" fill="#1a1a1a" stroke="#1a1a1a" stroke-width="0.22" >Cell adhesion</text>
<line x1="500.00" y1="614.80" x2="503.30" y2="614.80" stroke="#333" stroke-width="0.9" />
<text x="497.90" y="633.40" font-size="9.55" text-anchor="end" fill="#1a1a1a" stroke="#1a1a1a" stroke-width="0.22" >Neuropeptide signaling pathway</text>
<line x1="500.00" y1="629.90" x2="503.30" y2="629.90" stroke="#333" stroke-width="0.9" />
<circle cx="524.70" cy="509.10" r="5.70" fill="#e8262c" />
<circle cx="567.10" cy="509.10" r="3.70" fill="#e8262c" />
<circle cx="524.70" cy="524.20" r="5.30" fill="#4a80c0" />
<circle cx="567.10" cy="524.20" r="4.70" fill="#4a80c0" />
<circle cx="524.70" cy="539.30" r="2.20" fill="#4cbf40" />
<circle cx="567.10" cy="539.30" r="2.10" fill="#4cbf40" />
<circle cx="524.70" cy="554.40" r="2.50" fill="#9a48b8" />
<circle cx="567.10" cy="554.40" r="2.50" fill="#9a48b8" />
<circle cx="524.70" cy="569.50" r="2.60" fill="#f07a28" />
<circle cx="524.70" cy="584.60" r="3.30" fill="#eef244" />
<circle cx="567.10" cy="584.60" r="7.50" fill="#eef244" />
<circle cx="524.70" cy="599.70" r="2.30" fill="#b05a2a" />
<circle cx="567.10" cy="599.70" r="3.00" fill="#b05a2a" />
<circle cx="524.70" cy="614.80" r="4.40" fill="#e67cc0" />
<circle cx="567.10" cy="614.80" r="4.40" fill="#e67cc0" />
<circle cx="567.10" cy="629.90" r="2.70" fill="#a0a0a0" />
<line x1="524.70" y1="637.10" x2="524.70" y2="640.30" stroke="#333" stroke-width="0.9" />
<text x="524.70" y="652.40" font-size="10.5" text-anchor="middle" fill="#1a1a1a" stroke="#1a1a1a" stroke-width="0.22" >CB</text>
<line x1="567.10" y1="637.10" x2="567.10" y2="640.30" stroke="#333" stroke-width="0.9" />
<text x="567.10" y="652.40" font-size="10.5" text-anchor="middle" fill="#1a1a1a" stroke="#1a1a1a" stroke-width="0.22" >CTX</text>
<text x="594.00" y="508.60" font-size="8.5" fill="#1a1a1a" stroke="#1a1a1a" stroke-width="0.22" >Number of DEGs</text>
<rect x="596.20" y="516.90" width="17.50" height="43.50" fill="#ebebeb" />
<circle cx="605.10" cy="523.00" r="2.70" fill="#606060" />
<circle cx="605.10" cy="535.50" r="4.50" fill="#606060" />
<circle cx="605.10" cy="551.60" r="6.20" fill="#606060" />
<text x="618.40" y="525.80" font-size="8.5" fill="#1a1a1a" stroke="#1a1a1a" stroke-width="0.22" >15</text>
<text x="618.40" y="538.30" font-size="8.5" fill="#1a1a1a" stroke="#1a1a1a" stroke-width="0.22" >30</text>
<text x="618.40" y="554.90" font-size="8.5" fill="#1a1a1a" stroke="#1a1a1a" stroke-width="0.22" >45</text>
</svg>
</body></html>
